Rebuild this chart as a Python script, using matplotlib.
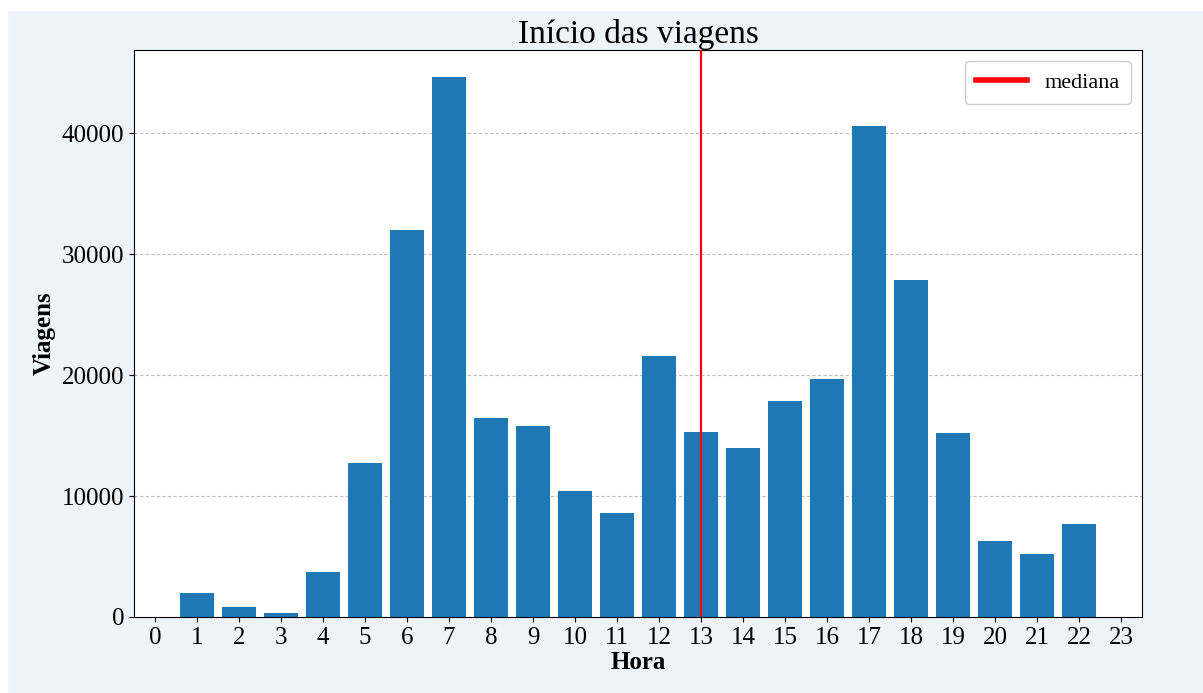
import matplotlib
matplotlib.use("Agg")
import matplotlib.pyplot as plt
from matplotlib.lines import Line2D
from matplotlib.patches import Rectangle

horas = list(range(24))
viagens = [0, 2000, 800, 300, 3700, 12700, 32000, 44700, 16500, 15800,
           10400, 8600, 21600, 15300, 14000, 17900, 19700, 40600, 27900,
           15200, 6300, 5200, 7700, 0]
mediana = 13
titulo = "Início das viagens"

plt.rcParams['font.family'] = ['Liberation Serif', 'DejaVu Serif']

fig = plt.figure(figsize=(12.03, 6.93), dpi=100, facecolor='#eef2f9')
ax = fig.add_axes([0.1114, 0.1097, 0.8379, 0.8181])
ax.set_facecolor('white')

ax.bar(horas, viagens, width=0.8, color='#1f77b4', zorder=2)
ax.axvline(mediana, color='red', lw=1.6, zorder=3)
ax.yaxis.grid(True, linestyle=(0, (3, 2)), color='#bdbdbd', lw=0.8, zorder=0)
ax.set_axisbelow(True)

ax.set_xlim(-0.5, 23.5)
ax.set_ylim(0, 46900)
ax.set_xticks(horas)
ax.set_yticks([0, 10000, 20000, 30000, 40000])
ax.tick_params(labelsize=18)

ax.set_title(titulo, fontsize=24, pad=3)
ax.set_xlabel('Hora', fontsize=18, fontweight='bold', labelpad=2)
ax.set_ylabel('Viagens', fontsize=18, fontweight='bold')

handle = Line2D([], [], color='red', lw=4)
ax.legend([handle], ['mediana'], loc='upper right', fontsize=16,
          framealpha=1.0, handlelength=2.3, borderpad=0.5)

fig.patches.append(Rectangle((0, 0.985), 1, 0.015, transform=fig.transFigure,
                             color='white', zorder=-1))
fig.patches.append(Rectangle((0, 0), 0.006, 1, transform=fig.transFigure,
                             color='white', zorder=-1))

fig.savefig('out.png', dpi=100, facecolor=fig.get_facecolor())
